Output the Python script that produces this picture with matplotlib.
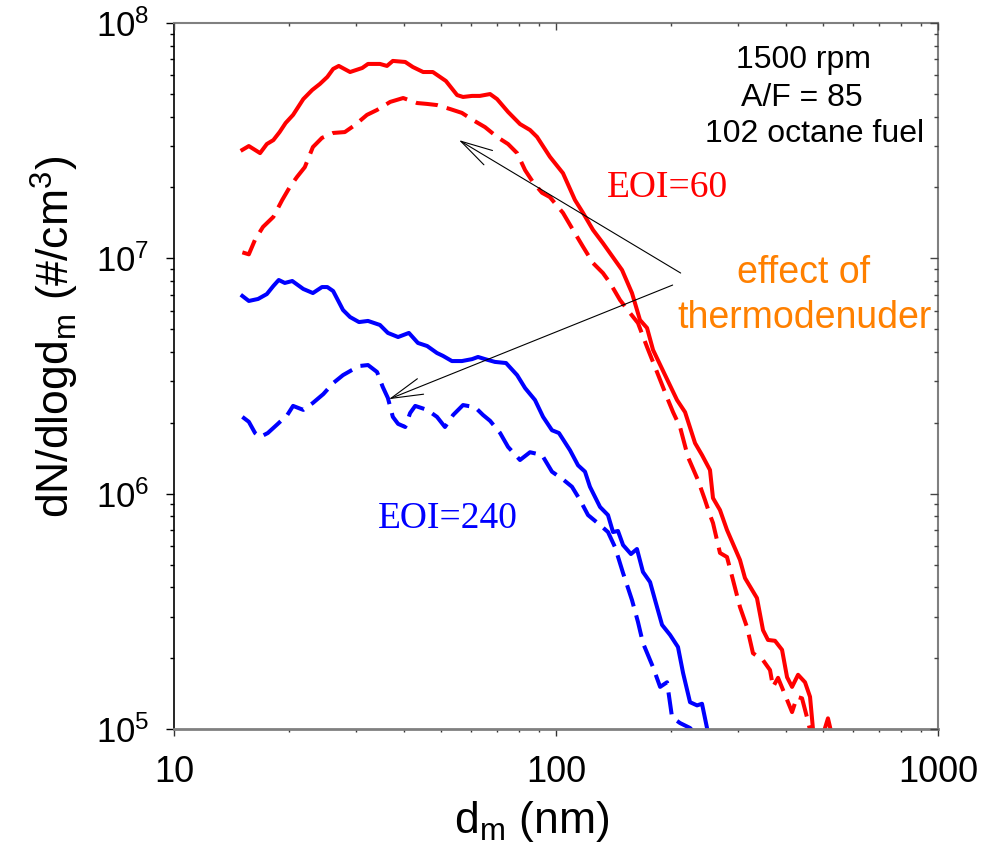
import matplotlib
matplotlib.use("Agg")
import matplotlib.pyplot as plt

plt.rcParams['font.family'] = ['Liberation Sans', 'DejaVu Sans']
plt.rcParams['mathtext.fontset'] = 'custom'
plt.rcParams['mathtext.rm'] = 'Liberation Sans'
plt.rcParams['mathtext.it'] = 'Liberation Sans:italic'
plt.rcParams['mathtext.bf'] = 'Liberation Sans:bold'
plt.rcParams['mathtext.default'] = 'regular'

# ---- data (diameter nm, dN/dlogdm #/cm3) ----
d_eoi60 = [15.1, 15.7, 16.8, 17.5, 18.2, 18.9, 19.6, 20.5, 21.8, 23.0, 24.1, 25.2, 26.1, 27.0, 28.9, 31.1, 32.2,
           34.6, 36.1, 37.4, 40.3, 42.2, 44.9, 47.6, 51.5, 55.1, 57.1, 60.3, 63.2, 67.2, 70.1, 74.9, 80.5, 85.5,
           89.2, 96.4, 104.3, 112.1, 117.7, 125.0, 132.7, 141.0, 148.9, 158.1, 165.9, 173.1, 179.5, 193.0, 207.4,
           217.7, 231.2, 241.1, 253.0, 257.6, 268.7, 280.3, 303.1, 312.4, 335.8, 348.3, 358.9, 374.4, 390.6, 402.6,
           414.9, 430.2, 448.6, 462.4, 470.9, 491.1, 515.2, 531.0]
n_eoi60 = [2.89e7, 3.00e7, 2.80e7, 3.06e7, 3.18e7, 3.44e7, 3.76e7, 4.07e7, 4.75e7, 5.19e7, 5.51e7, 5.90e7, 6.38e7,
           6.57e7, 6.19e7, 6.44e7, 6.70e7, 6.70e7, 6.57e7, 6.90e7, 6.83e7, 6.50e7, 6.19e7, 6.19e7, 5.67e7, 4.94e7,
           4.85e7, 4.90e7, 4.90e7, 4.99e7, 4.75e7, 4.19e7, 3.72e7, 3.51e7, 3.28e7, 2.70e7, 2.30e7, 1.77e7, 1.56e7,
           1.32e7, 1.16e7, 1.01e7, 8.92e6, 7.12e6, 5.47e6, 5.06e6, 4.08e6, 3.19e6, 2.50e6, 2.22e6, 1.64e6, 1.46e6,
           1.26e6, 9.58e5, 8.52e5, 7.01e5, 5.23e5, 4.38e5, 3.60e5, 2.63e5, 2.39e5, 2.37e5, 2.17e5, 1.66e5, 1.51e5,
           1.70e5, 1.58e5, 1.37e5, 9.9e4, 8.6e4, 1.11e5, 9.0e4]

d_eoi60_td = [15.1, 15.7, 16.3, 17.1, 18.2, 19.2, 20.1, 21.0, 22.0, 23.1, 24.4, 26.1, 28.0, 29.8, 32.0, 34.0, 36.8,
              39.8, 43.3, 46.0, 48.8, 52.8, 56.7, 60.6, 65.2, 70.1, 74.9, 79.1, 83.0, 87.0, 91.9, 96.4, 104.3,
              110.8, 117.7, 125.0, 132.7, 138.5, 147.1, 156.2, 163.9, 173.1, 183.8, 196.5, 202.5, 211.2, 221.6,
              235.4, 245.5, 253.0, 257.6, 268.7, 280.3, 290.6, 303.1, 316.2, 327.8, 348.3, 363.3, 369.9, 381.3,
              402.6, 414.9, 427.6, 440.6, 454.1, 462.4]
n_eoi60_td = [1.06e7, 1.04e7, 1.20e7, 1.36e7, 1.50e7, 1.77e7, 2.01e7, 2.22e7, 2.44e7, 2.97e7, 3.25e7, 3.41e7,
              3.44e7, 3.69e7, 4.07e7, 4.27e7, 4.62e7, 4.80e7, 4.57e7, 4.53e7, 4.48e7, 4.31e7, 4.15e7, 3.87e7,
              3.61e7, 3.28e7, 3.06e7, 2.80e7, 2.37e7, 2.11e7, 1.90e7, 1.82e7, 1.56e7, 1.32e7, 1.12e7, 9.55e6,
              8.66e6, 7.86e6, 6.65e6, 5.86e6, 5.31e6, 4.20e6, 3.29e6, 2.50e6, 2.22e6, 1.92e6, 1.43e6, 1.14e6,
              9.40e5, 8.11e5, 7.51e5, 5.60e5, 5.38e5, 4.30e5, 3.30e5, 2.71e5, 2.10e5, 1.96e5, 1.78e5, 1.51e5,
              1.65e5, 1.33e5, 1.18e5, 1.37e5, 1.35e5, 1.12e5, 9.9e4]

d_eoi240 = [15.1, 15.7, 16.6, 17.5, 18.2, 18.8, 19.5, 20.4, 21.8, 23.1, 24.4, 25.2, 26.1, 27.7, 28.9, 30.5, 32.2,
            34.6, 36.3, 38.6, 41.2, 43.5, 46.0, 48.8, 50.6, 53.4, 56.7, 60.3, 62.5, 65.2, 69.2, 74.0, 79.1, 83.0,
            88.1, 92.5, 97.6, 101.8, 108.8, 114.2, 119.1, 122.7, 130.4, 136.8, 141.0, 145.3, 149.8, 157.1, 162.9,
            168.9, 176.3, 181.7, 189.5, 198.9, 208.6, 215.1, 224.3, 234.0, 241.1, 248.5, 251.5]
n_eoi240 = [6.92e6, 6.59e6, 6.72e6, 7.05e6, 7.63e6, 8.09e6, 7.86e6, 8.01e6, 7.41e6, 7.12e6, 7.55e6, 7.55e6,
            7.26e6, 6.03e6, 5.63e6, 5.36e6, 5.42e6, 5.21e6, 4.82e6, 4.63e6, 4.82e6, 4.37e6, 4.24e6, 3.96e6,
            3.85e6, 3.66e6, 3.66e6, 3.73e6, 3.81e6, 3.73e6, 3.63e6, 3.59e6, 3.19e6, 2.81e6, 2.50e6, 2.12e6,
            1.86e6, 1.81e6, 1.53e6, 1.32e6, 1.24e6, 1.07e6, 8.78e5, 8.11e5, 6.87e5, 6.94e5, 6.05e5, 5.54e5,
            5.82e5, 4.65e5, 4.21e5, 3.53e5, 2.77e5, 2.51e5, 2.23e5, 1.73e5, 1.30e5, 1.26e5, 1.28e5, 1.01e5, 9.0e4]

d_eoi240_td = [15.1, 15.7, 16.3, 16.8, 17.6, 18.7, 19.8, 20.5, 21.8, 23.1, 24.6, 26.1, 27.7, 29.2, 30.7, 32.2,
               34.0, 35.2, 36.3, 37.4, 38.6, 40.3, 41.5, 42.8, 46.0, 48.8, 51.2, 53.8, 57.1, 61.4, 64.4, 67.2,
               71.4, 74.9, 80.5, 85.5, 91.9, 97.6, 104.3, 110.1, 115.6, 121.3, 130.4, 136.8, 142.7, 149.8, 158.1,
               163.9, 168.9, 179.5, 187.3, 195.3, 201.3, 211.2, 224.3, 232.0]
n_eoi240_td = [2.12e6, 2.02e6, 1.81e6, 1.74e6, 1.81e6, 1.98e6, 2.16e6, 2.36e6, 2.27e6, 2.43e6, 2.65e6, 2.95e6,
               3.19e6, 3.35e6, 3.49e6, 3.52e6, 3.29e6, 2.84e6, 2.55e6, 2.12e6, 1.98e6, 1.92e6, 2.20e6, 2.36e6,
               2.27e6, 2.12e6, 1.92e6, 2.16e6, 2.38e6, 2.33e6, 2.16e6, 2.04e6, 1.81e6, 1.58e6, 1.39e6, 1.50e6,
               1.46e6, 1.24e6, 1.15e6, 1.07e6, 9.40e5, 8.11e5, 7.36e5, 6.87e5, 5.93e5, 4.60e5, 3.53e5, 2.85e5,
               2.32e5, 1.83e5, 1.51e5, 1.58e5, 1.12e5, 1.06e5, 1.01e5, 9.5e4]

x_ticks = [10, 100, 1000]
x_tick_labels = ['10', '100', '1000']
info_lines = ['1500 rpm', 'A/F = 85', '102 octane fuel']
effect_lines = ['effect of', 'thermodenuder']
arrow_tips = [(55.7, 3.18e7), (36.5, 2.52e6)]
arrow_starts = [(212.0, 8.66e6), (202.0, 7.7e6)]

W, H = 990, 851
fig = plt.figure(figsize=(W / 100, H / 100), dpi=100)
L, R, T, B = 174, 938, 23, 729
ax = fig.add_axes([L / W, 1 - B / H, (R - L) / W, (B - T) / H])

RED = '#ff0000'
BLUE = '#0000ff'
lw = 2.9
dash = (5.5, 2.3)
ax.plot(d_eoi60, n_eoi60, color=RED, lw=lw, solid_joinstyle='round')
ax.plot(d_eoi60_td, n_eoi60_td, color=RED, lw=lw, dashes=dash)
ax.plot(d_eoi240, n_eoi240, color=BLUE, lw=lw, solid_joinstyle='round')
ax.plot(d_eoi240_td, n_eoi240_td, color=BLUE, lw=lw, dashes=dash)

ax.set_xscale('log')
ax.set_yscale('log')
ax.set_xlim(10, 1000)
ax.set_ylim(1e5, 1e8)
ax.set_xticks(x_ticks)
ax.set_xticklabels(x_tick_labels)

GREY = '#808080'
for side in ['top', 'right']:
    ax.spines[side].set_color(GREY)
    ax.spines[side].set_linewidth(1.5)
ax.spines['bottom'].set_color(GREY)
ax.spines['bottom'].set_linewidth(2.0)
ax.spines['left'].set_color('black')
ax.spines['left'].set_linewidth(1.2)

ax.tick_params(axis='x', which='major', direction='out', length=5, width=1, pad=14,
               labelsize=26, top=False, bottom=True, color='#333333')
ax.tick_params(axis='x', which='minor', direction='out', length=2.5, width=1, top=False, bottom=True,
               color='#333333')
ax.tick_params(axis='y', which='major', direction='out', length=5.8, width=1, pad=12,
               labelsize=25, left=True, right=False, color='black')
ax.tick_params(axis='y', which='minor', direction='out', length=3, width=1, left=True, right=False,
               color='black')

# inward ticks on the right and top
axr = ax.twinx()
axr.set_yscale('log')
axr.set_ylim(1e5, 1e8)
axr.tick_params(axis='y', which='major', direction='in', length=5.8, width=1, labelright=False, color='#444444')
axr.tick_params(axis='y', which='minor', direction='in', length=3, width=1, color='#444444')
for s in axr.spines.values():
    s.set_visible(False)

axt = ax.twiny()
axt.set_xscale('log')
axt.set_xlim(10, 1000)
axt.tick_params(axis='x', which='major', direction='in', length=5, width=1, labeltop=False, color='#444444')
axt.tick_params(axis='x', which='minor', direction='in', length=2.5, width=1, color='#444444')
for s in axt.spines.values():
    s.set_visible(False)

# axis labels
fig.text(55 / W, 1 - 337 / H, r'dN/dlogd$_m$ (#/cm$^3$)', rotation=90, ha='center', va='center', fontsize=32)
fig.text(532 / W, 1 - 833 / H, r'd$_m$ (nm)', ha='center', va='baseline', fontsize=32)

# annotations
for (x, y), s in zip([(803, 68), (802, 106), (815, 142)], info_lines):
    fig.text(x / W, 1 - y / H, s, ha='center', va='baseline', fontsize=23, color='black')
for (x, y), s in zip([(804, 283), (804, 328)], effect_lines):
    fig.text(x / W, 1 - y / H, s, ha='center', va='baseline', fontsize=27, color='#ff8000')
fig.text(607 / W, 1 - 197 / H, 'EOI=60', ha='left', va='baseline', fontsize=27, color=RED,
         family='Liberation Serif')
fig.text(378 / W, 1 - 528 / H, 'EOI=240', ha='left', va='baseline', fontsize=27, color=BLUE,
         family='Liberation Serif')

for tip, start in zip(arrow_tips, arrow_starts):
    ax.annotate('', xy=tip, xytext=start, xycoords='data', textcoords='data',
                arrowprops=dict(arrowstyle='->,head_length=2.3,head_width=0.6', color='black', lw=0.8,
                                shrinkA=0, shrinkB=0, mutation_scale=10))

fig.savefig('out.png', dpi=100)
